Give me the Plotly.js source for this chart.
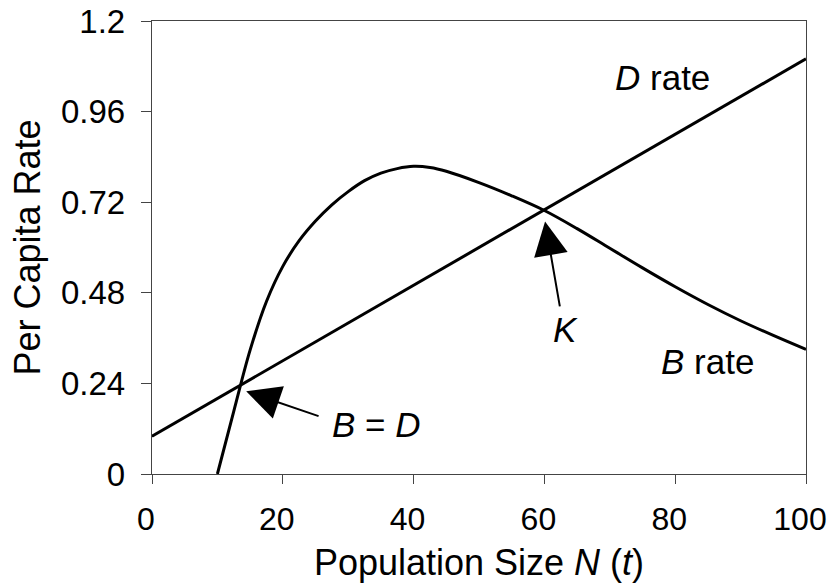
<!DOCTYPE html>
<html>
<head>
<meta charset="utf-8">
<script src="https://cdn.plot.ly/plotly-3.0.1.min.js"></script>
<style>html,body{margin:0;padding:0;background:#fff;}#chart{width:832px;height:583px;}</style>
</head>
<body>
<div id="chart"></div>
<script>
// Data
const dN = [0, 100];
const dRate = [0.1, 1.1];
const bN = [10, 12.5, 15, 17.5, 20, 22.5, 25, 27.5, 30, 32.5, 35, 37.5, 40, 42.5, 45, 50, 55, 60, 65, 70, 75, 80, 85, 90, 95, 100];
const bRate = [0, 0.166, 0.328, 0.457, 0.55, 0.618, 0.670, 0.713, 0.748, 0.777, 0.797, 0.809, 0.815, 0.812, 0.802, 0.772, 0.737, 0.698, 0.650, 0.598, 0.546, 0.496, 0.449, 0.406, 0.367, 0.330];
const yTickVals = [0, 0.24, 0.48, 0.72, 0.96, 1.2];
const yTickText = ["0", "0.24", "0.48", "0.72", "0.96", "1.2"];
const xTickVals = [0, 20, 40, 60, 80, 100];

const FONT = "Liberation Sans, Arial, sans-serif";
const TICK = 33, XTICK = 32, TITLE = 36, ANN = 35;

const traces = [
  {x: dN, y: dRate, mode: "lines", line: {color: "#000", width: 3}, hoverinfo: "skip"},
  {x: bN, y: bRate, mode: "lines", line: {color: "#000", width: 3, shape: "spline", smoothing: 1}, hoverinfo: "skip"}
];

const layout = {
  width: 832, height: 583,
  margin: {l: 152, r: 26, t: 21, b: 109},
  paper_bgcolor: "#fff", plot_bgcolor: "#fff",
  showlegend: false,
  font: {family: FONT, color: "#000", size: TICK},
  xaxis: {
    range: [0, 100], tickvals: xTickVals, ticks: "outside", ticklen: 9, tickwidth: 1, tickcolor: "#444",
    showline: true, linecolor: "#444", linewidth: 1.2, mirror: true, showgrid: false, zeroline: false,
    tickfont: {size: XTICK, family: FONT}, ticklabelstandoff: 7, ticklabelshift: -6, ticklabeloverflow: "allow",
    title: {text: "Population Size <i>N</i> (<i>t</i>)", font: {size: TITLE, family: FONT}, standoff: 14}
  },
  yaxis: {
    range: [0, 1.2], tickvals: yTickVals, ticktext: yTickText, ticks: "outside", ticklen: 10, tickwidth: 1, tickcolor: "#444",
    showline: true, linecolor: "#444", linewidth: 1.2, mirror: true, showgrid: false, zeroline: false,
    tickfont: {size: TICK, family: FONT}, ticklabelstandoff: 9, ticklabeloverflow: "allow",
    title: {text: "Per Capita Rate", font: {size: TITLE, family: FONT}, standoff: 9}
  },
  annotations: [
    {x: 78.1, y: 1.05, xref: "x", yref: "y", text: "<i>D</i> rate", showarrow: false, font: {size: ANN, family: FONT}},
    {x: 85, y: 0.297, xref: "x", yref: "y", text: "<i>B</i> rate", showarrow: false, font: {size: ANN, family: FONT}},
    {x: 63.3, y: 0.382, xref: "x", yref: "y", text: "<i>K</i>", showarrow: false, font: {size: ANN, family: FONT}},
    {x: 34.4, y: 0.13, xref: "x", yref: "y", text: "<i>B</i> = <i>D</i>", showarrow: false, font: {size: ANN, family: FONT}},
    {x: 14.4, y: 0.219, xref: "x", yref: "y", ax: 25.7, ay: 0.152, axref: "x", ayref: "y", text: "",
     showarrow: true, arrowhead: 2, arrowsize: 3.4, arrowwidth: 2, arrowcolor: "#000"},
    {x: 60.1, y: 0.669, xref: "x", yref: "y", ax: 62.4, ay: 0.44, axref: "x", ayref: "y", text: "",
     showarrow: true, arrowhead: 2, arrowsize: 3.4, arrowwidth: 2, arrowcolor: "#000"}
  ]
};

Plotly.newPlot("chart", traces, layout, {staticPlot: true, displayModeBar: false});
</script>
</body>
</html>
